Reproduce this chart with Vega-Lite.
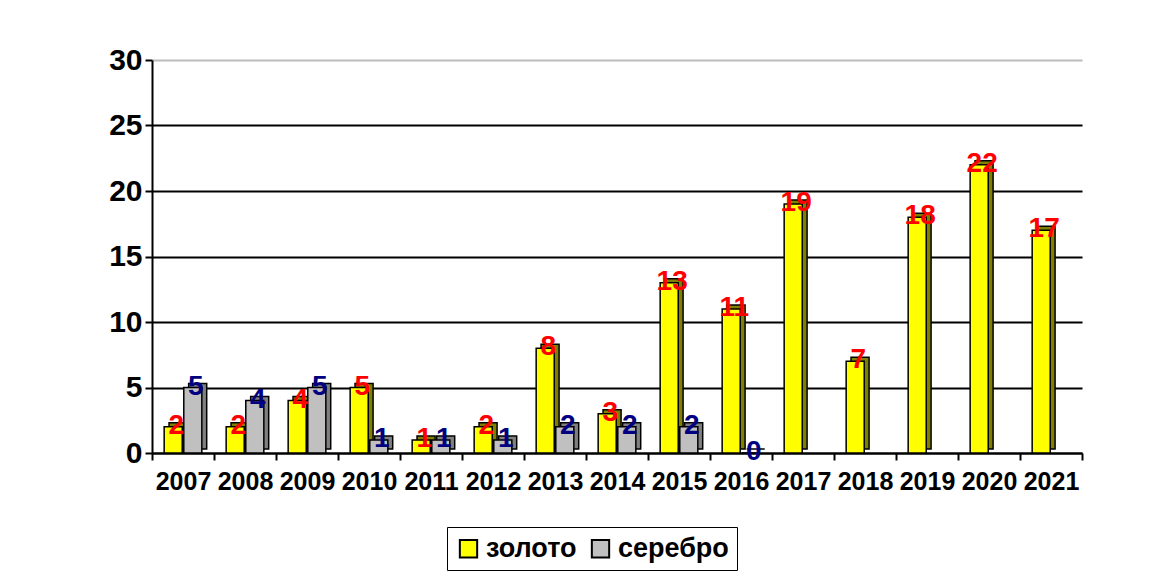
{
  "$schema": "https://vega.github.io/schema/vega-lite/v6.json",
  "autosize": "none",
  "width": 930,
  "height": 393,
  "padding": {"left": 152, "top": 60, "right": 83, "bottom": 124},
  "background": "white",
  "config": {
    "font": "Liberation Sans",
    "view": {"stroke": null}
  },
  "data": {
    "values": [
      {"year": "2007", "metal": "золото", "value": 2},
      {"year": "2007", "metal": "серебро", "value": 5},
      {"year": "2008", "metal": "золото", "value": 2},
      {"year": "2008", "metal": "серебро", "value": 4},
      {"year": "2009", "metal": "золото", "value": 4},
      {"year": "2009", "metal": "серебро", "value": 5},
      {"year": "2010", "metal": "золото", "value": 5},
      {"year": "2010", "metal": "серебро", "value": 1},
      {"year": "2011", "metal": "золото", "value": 1},
      {"year": "2011", "metal": "серебро", "value": 1},
      {"year": "2012", "metal": "золото", "value": 2},
      {"year": "2012", "metal": "серебро", "value": 1},
      {"year": "2013", "metal": "золото", "value": 8},
      {"year": "2013", "metal": "серебро", "value": 2},
      {"year": "2014", "metal": "золото", "value": 3},
      {"year": "2014", "metal": "серебро", "value": 2},
      {"year": "2015", "metal": "золото", "value": 13},
      {"year": "2015", "metal": "серебро", "value": 2},
      {"year": "2016", "metal": "золото", "value": 11},
      {"year": "2016", "metal": "серебро", "value": 0},
      {"year": "2017", "metal": "золото", "value": 19},
      {"year": "2018", "metal": "золото", "value": 7},
      {"year": "2019", "metal": "золото", "value": 18},
      {"year": "2020", "metal": "золото", "value": 22},
      {"year": "2021", "metal": "золото", "value": 17}
    ]
  },
  "encoding": {
    "x": {
      "field": "year", "type": "nominal", "title": null,
      "scale": {"paddingInner": 0, "paddingOuter": 0},
      "axis": {
        "labelAngle": 0, "labelFontSize": 25, "labelFontWeight": "bold", "labelColor": "black",
        "labelPadding": 9, "tickBand": "extent", "tickColor": "black", "tickSize": 7, "tickWidth": 2,
        "domainColor": "black", "domainWidth": 2
      }
    },
    "y": {
      "field": "value", "type": "quantitative", "title": null,
      "scale": {"domain": [0, 30], "nice": false},
      "axis": {
        "values": [0, 5, 10, 15, 20, 25, 30],
        "labelFontSize": 30, "labelFontWeight": "bold", "labelColor": "black", "labelPadding": 3,
        "tickColor": "black", "tickSize": 7, "tickWidth": 2,
        "domainColor": "black", "domainWidth": 2,
        "grid": true,
        "gridColor": {"condition": {"test": "datum.value == 30", "value": "#bbbbbb"}, "value": "black"},
        "gridWidth": 2
      }
    }
  },
  "resolve": {"scale": {"xOffset": "independent"}},
  "layer": [
    {
      "mark": {"type": "bar", "yOffset": -4, "stroke": "black", "strokeWidth": 1.5},
      "encoding": {
        "xOffset": {
          "field": "metal", "type": "nominal", "sort": ["золото", "серебро"],
          "scale": {"domain": ["золото", "серебро"], "paddingInner": 0.08, "paddingOuter": 0.62, "align": 0.7}
        },
        "fill": {"condition": {"test": "datum.metal == 'золото'", "value": "#808000"}, "value": "#808080"}
      }
    },
    {
      "encoding": {
        "xOffset": {
          "field": "metal", "type": "nominal", "sort": ["золото", "серебро"],
          "scale": {"domain": ["золото", "серебро"], "paddingInner": 0.08, "paddingOuter": 0.62, "align": 0.5}
        }
      },
      "layer": [
        {
          "mark": {"type": "bar", "stroke": "black", "strokeWidth": 1.5},
          "encoding": {
            "fill": {
              "field": "metal", "type": "nominal", "sort": ["золото", "серебро"],
              "scale": {"domain": ["золото", "серебро"], "range": ["#FFFF00", "#C0C0C0"]},
              "legend": {
                "title": null, "orient": "none", "legendX": 295, "legendY": 467, "direction": "horizontal",
                "padding": 8, "strokeColor": "black",
                "labelFontSize": 27, "labelFontWeight": "bold", "labelColor": "black",
                "symbolType": "square", "symbolSize": 300, "symbolStrokeColor": "black", "symbolStrokeWidth": 2,
                "columnPadding": 10, "labelOffset": 4
              }
            }
          }
        },
        {
          "mark": {"type": "text", "fontSize": 28, "fontWeight": "bold", "baseline": "middle", "dy": -1, "dx": 3},
          "encoding": {
            "text": {"field": "value", "type": "quantitative"},
            "color": {"condition": {"test": "datum.metal == 'золото'", "value": "#FF0000"}, "value": "#000080"}
          }
        }
      ]
    }
  ]
}
